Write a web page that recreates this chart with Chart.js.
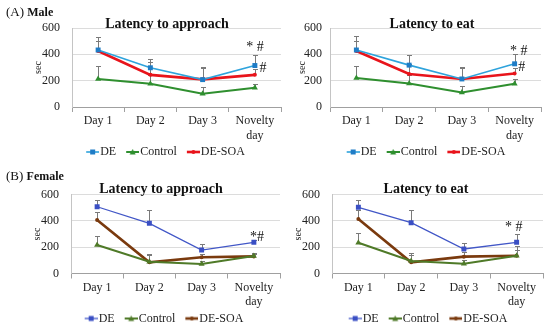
<!DOCTYPE html>
<html>
<head>
<meta charset="utf-8">
<script src="https://cdn.jsdelivr.net/npm/chart.js@4.4.0/dist/chart.umd.min.js"></script>
<style>
  html, body { margin: 0; padding: 0; background: #fff; overflow: hidden; }
  body { width: 550px; height: 331px; position: relative; font-family: "Liberation Serif", "Times New Roman", serif; color: #111; }
  canvas { position: absolute; }
  .panel-label { position: absolute; left: 6px; font-size: 13px; line-height: 14px; z-index: 2; }
  .panel-label b { font-size: 12px; }
  .title { position: absolute; width: 200px; text-align: center; font-weight: bold; font-size: 14px; line-height: 14px; z-index: 2; }
</style>
</head>
<body>
<canvas id="maleApproach" width="292" height="170" style="left:0;top:0"></canvas>
<canvas id="maleEat" width="274" height="170" style="left:275px;top:0"></canvas>
<canvas id="femaleApproach" width="290" height="172" style="left:0;top:165px"></canvas>
<canvas id="femaleEat" width="282" height="172" style="left:275px;top:165px"></canvas>

<div class="panel-label" style="top:5px">(A) <b>Male</b></div>
<div class="panel-label" style="top:169px">(B) <b>Female</b></div>
<div class="title" style="left:67px;top:17px">Latency to approach</div>
<div class="title" style="left:332px;top:17px">Latency to eat</div>
<div class="title" style="left:61px;top:182px">Latency to approach</div>
<div class="title" style="left:326px;top:182px">Latency to eat</div>

<script>
const days = ["Day 1", "Day 2", "Day 3", ["Novelty", "day"]];
const seriesNames = ["DE", "Control", "DE-SOA"];
const yTicks = [0, 200, 400, 600];

// (A) male - latency to approach
const maleApproachDE = [433, 298, 208, 315];
const maleApproachControl = [213, 177, 100, 146];
const maleApproachSOA = [425, 244, 210, 244];
const maleApproachDEErr = [530, 368, 303, 392];
const maleApproachControlErr = [310, 240, 150, 178];
const maleApproachSOAErr = [505, 338, 300, 290];
const maleApproachNotes = ["* #", "#"];
const maleApproachNoteValues = [455, 290];

// (A) male - latency to eat
const maleEatDE = [433, 318, 213, 328];
const maleEatControl = [220, 179, 110, 177];
const maleEatSOA = [425, 251, 213, 254];
const maleEatDEErr = [536, 395, 303, 400];
const maleEatControlErr = [315, 240, 156, 213];
const maleEatSOAErr = [505, 330, 300, 300];
const maleEatNotes = ["* #", "#"];
const maleEatNoteValues = [423, 300];

// (B) female - latency to approach
const femaleApproachDE = [507, 381, 178, 237];
const femaleApproachControl = [216, 90, 72, 133];
const femaleApproachSOA = [406, 85, 123, 130];
const femaleApproachDEErr = [558, 482, 224, 255];
const femaleApproachControlErr = [287, 148, 95, 150];
const femaleApproachSOAErr = [470, 140, 150, 158];
const femaleApproachNotes = ["*#"];
const femaleApproachNoteValues = [276];

// (B) female - latency to eat
const femaleEatDE = [503, 386, 186, 237];
const femaleEatControl = [234, 95, 75, 135];
const femaleEatSOA = [414, 85, 128, 135];
const femaleEatDEErr = [558, 482, 229, 298];
const femaleEatControlErr = [310, 158, 105, 175];
const femaleEatSOAErr = [480, 140, 160, 209];
const femaleEatNotes = ["* #"];
const femaleEatNoteValues = [352];

const maleColors = ["#2ea3dc", "#2f8f2f", "#e8141b"];
const maleMarkers = ["#1f7cc6", "#2f8f2f", "#e8141b"];
const maleWidths = [1.6, 2, 2.6];
const femaleColors = ["#4257c7", "#4f7a28", "#7a3a0e"];
const femaleMarkers = ["#3a4fc4", "#4f7a28", "#7a3a0e"];
const femaleWidths = [1.3, 2, 2.6];
const pointStyles = ["rect", "triangle", "circle"];
const pointRadii = [3.5, 3.5, 2];

Chart.defaults.font.family = '"Liberation Serif", "Times New Roman", serif';
Chart.defaults.font.size = 12;
Chart.defaults.color = "#222";

// upward error whiskers, drawn under the lines
const errorBars = {
  id: "errorBars",
  beforeDatasetsDraw(chart, args, opts) {
    const ctx = chart.ctx;
    const y = chart.scales.y;
    ctx.save();
    ctx.strokeStyle = opts.color;
    ctx.lineWidth = 1;
    opts.upper.forEach((arr, i) => {
      chart.getDatasetMeta(i).data.forEach((pt, j) => {
        const x = Math.round(pt.x) + 0.5;
        const top = Math.round(y.getPixelForValue(arr[j])) + 0.5;
        ctx.beginPath();
        ctx.moveTo(x, pt.y);
        ctx.lineTo(x, top);
        ctx.moveTo(x - 2.5, top);
        ctx.lineTo(x + 2.5, top);
        ctx.stroke();
      });
    });
    ctx.restore();
  }
};

// significance marks above the novelty day
const notes = {
  id: "notes",
  afterDatasetsDraw(chart, args, opts) {
    const ctx = chart.ctx;
    ctx.save();
    ctx.font = '14px "Liberation Serif", serif';
    ctx.fillStyle = "#111";
    ctx.textAlign = "center";
    ctx.textBaseline = "middle";
    opts.texts.forEach((t, i) => {
      const x = chart.scales.x.getPixelForValue(3) + opts.dx[i];
      const y = chart.scales.y.getPixelForValue(opts.values[i]);
      ctx.fillText(t, x, y);
    });
    ctx.restore();
  }
};

// line-with-marker swatch for the legend; the swatch sits at the right end
// of a wider transparent image so it ends just before the label text
function legendIcon(color, marker, width, style) {
  const c = document.createElement("canvas");
  c.width = 25;
  c.height = 8;
  const g = c.getContext("2d");
  const x0 = 12;
  g.strokeStyle = color;
  g.lineWidth = width;
  g.beginPath();
  g.moveTo(x0, 4);
  g.lineTo(x0 + 13, 4);
  g.stroke();
  g.fillStyle = marker;
  g.beginPath();
  const cx = x0 + 6.5;
  if (style === "rect") g.rect(cx - 2.5, 1.5, 5, 5);
  else if (style === "triangle") { g.moveTo(cx, 1); g.lineTo(cx + 3, 6.5); g.lineTo(cx - 3, 6.5); g.closePath(); }
  else g.arc(cx, 4, 2, 0, Math.PI * 2);
  g.fill();
  return c;
}

function makeChart(id, p) {
  const icons = p.colors.map((c, i) => legendIcon(c, p.markers[i], p.widths[i], pointStyles[i]));
  return new Chart(document.getElementById(id), {
    type: "line",
    data: {
      labels: days,
      datasets: p.series.map((s, i) => ({
        label: seriesNames[i],
        data: s,
        borderColor: p.colors[i],
        backgroundColor: p.markers[i],
        borderWidth: p.widths[i],
        pointStyle: pointStyles[i],
        pointRadius: pointRadii[i],
        pointBackgroundColor: p.markers[i],
        pointBorderColor: p.markers[i],
        pointBorderWidth: 0,
        tension: 0
      }))
    },
    plugins: [errorBars, notes],
    options: {
      responsive: false,
      animation: false,
      layout: { padding: p.padding },
      plugins: {
        legend: {
          position: "bottom",
          labels: {
            usePointStyle: true,
            pointStyleWidth: 15,
            padding: 3,
            color: "#222",
            font: { size: 12 },
            generateLabels: chart =>
              Chart.defaults.plugins.legend.labels.generateLabels(chart).map((l, i) => ({ ...l, pointStyle: icons[i] }))
          }
        },
        tooltip: { enabled: false },
        errorBars: { upper: p.errors, color: "#7a7a7a" },
        notes: { texts: p.notes, values: p.noteValues, dx: p.noteDx }
      },
      scales: {
        x: {
          offset: true,
          grid: { offset: true, drawOnChartArea: false, drawTicks: true, tickLength: 5, color: "#a0a0a0" },
          border: { color: "#a0a0a0" },
          ticks: { padding: 2, autoSkip: false, maxRotation: 0, color: "#222" },
          afterFit: s => { s.height = 36; }
        },
        y: {
          min: 0,
          max: 600,
          afterBuildTicks: s => { s.ticks = yTicks.map(v => ({ value: v })); },
          ticks: { padding: p.tickPad, color: "#222" },
          grid: { color: "#dcdcdc", drawTicks: false },
          border: { display: true, color: "#c4c4c4" },
          title: { display: true, text: "sec", padding: 0, font: { size: 10 } },
          afterFit: s => { s.width = p.yWidth; }
        },
        // empty spacer on the right so the legend sits where it does in the figure
        y2: {
          position: "right",
          grid: { display: false },
          border: { display: false },
          ticks: { display: false },
          afterFit: s => { s.width = p.rightGap; }
        }
      }
    }
  });
}

makeChart("maleApproach", {
  series: [maleApproachDE, maleApproachControl, maleApproachSOA],
  errors: [maleApproachDEErr, maleApproachControlErr, maleApproachSOAErr],
  notes: maleApproachNotes, noteValues: maleApproachNoteValues, noteDx: [0, 8],
  colors: maleColors, markers: maleMarkers, widths: maleWidths,
  padding: { left: 32, right: 0, top: 28, bottom: 2 }, yWidth: 40, tickPad: 12, rightGap: 11
});
makeChart("maleEat", {
  series: [maleEatDE, maleEatControl, maleEatSOA],
  errors: [maleEatDEErr, maleEatControlErr, maleEatSOAErr],
  notes: maleEatNotes, noteValues: maleEatNoteValues, noteDx: [4, 7],
  colors: maleColors, markers: maleMarkers, widths: maleWidths,
  padding: { left: 21, right: 0, top: 28, bottom: 2 }, yWidth: 34, tickPad: 8, rightGap: 8
});
makeChart("femaleApproach", {
  series: [femaleApproachDE, femaleApproachControl, femaleApproachSOA],
  errors: [femaleApproachDEErr, femaleApproachControlErr, femaleApproachSOAErr],
  notes: femaleApproachNotes, noteValues: femaleApproachNoteValues, noteDx: [3],
  colors: femaleColors, markers: femaleMarkers, widths: femaleWidths,
  padding: { left: 31, right: 0, top: 29.5, bottom: 2.5 }, yWidth: 40, tickPad: 12, rightGap: 10
});
makeChart("femaleEat", {
  series: [femaleEatDE, femaleEatControl, femaleEatSOA],
  errors: [femaleEatDEErr, femaleEatControlErr, femaleEatSOAErr],
  notes: femaleEatNotes, noteValues: femaleEatNoteValues, noteDx: [-3],
  colors: femaleColors, markers: femaleMarkers, widths: femaleWidths,
  padding: { left: 17, right: 0, top: 29.5, bottom: 2.5 }, yWidth: 40, tickPad: 12, rightGap: 14
});
</script>
</body>
</html>
